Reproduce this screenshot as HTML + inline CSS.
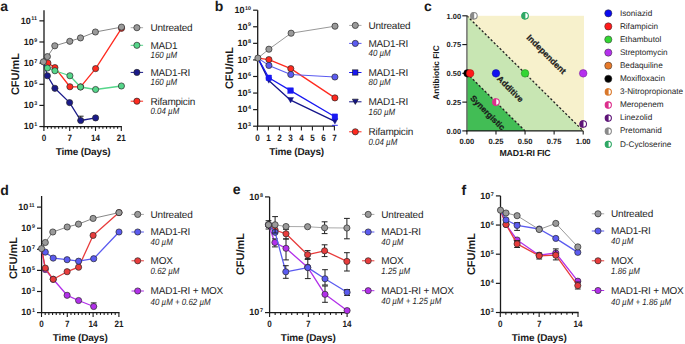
<!DOCTYPE html>
<html><head><meta charset="utf-8"><style>
html,body{margin:0;padding:0;background:#fff;}
svg{display:block;}
text{font-family:"Liberation Sans", sans-serif;text-rendering:geometricPrecision;}
</style></head><body>
<svg width="685" height="344" viewBox="0 0 685 344">
<rect width="685" height="344" fill="#fff"/>
<text x="0.30" y="11.20" font-size="14" font-weight="bold" font-style="normal" text-anchor="start" fill="#1a1a1a" >a</text>
<line x1="44.00" y1="10.20" x2="44.00" y2="127.20" stroke="#1a1a1a" stroke-width="1.3" />
<line x1="39.40" y1="20.85" x2="44.00" y2="20.85" stroke="#1a1a1a" stroke-width="1.2" />
<text x="20.69" y="23.70" font-size="9.0" font-weight="bold" fill="#1a1a1a">10<tspan font-size="5.4" font-weight="bold" dy="-3.24" dx="0.6">11</tspan></text>
<line x1="39.40" y1="41.99" x2="44.00" y2="41.99" stroke="#1a1a1a" stroke-width="1.2" />
<text x="23.69" y="44.84" font-size="9.0" font-weight="bold" fill="#1a1a1a">10<tspan font-size="5.4" font-weight="bold" dy="-3.24" dx="0.6">9</tspan></text>
<line x1="39.40" y1="63.13" x2="44.00" y2="63.13" stroke="#1a1a1a" stroke-width="1.2" />
<text x="23.69" y="65.98" font-size="9.0" font-weight="bold" fill="#1a1a1a">10<tspan font-size="5.4" font-weight="bold" dy="-3.24" dx="0.6">7</tspan></text>
<line x1="39.40" y1="84.27" x2="44.00" y2="84.27" stroke="#1a1a1a" stroke-width="1.2" />
<text x="23.69" y="87.12" font-size="9.0" font-weight="bold" fill="#1a1a1a">10<tspan font-size="5.4" font-weight="bold" dy="-3.24" dx="0.6">5</tspan></text>
<line x1="39.40" y1="105.41" x2="44.00" y2="105.41" stroke="#1a1a1a" stroke-width="1.2" />
<text x="23.69" y="108.26" font-size="9.0" font-weight="bold" fill="#1a1a1a">10<tspan font-size="5.4" font-weight="bold" dy="-3.24" dx="0.6">3</tspan></text>
<line x1="39.40" y1="126.55" x2="44.00" y2="126.55" stroke="#1a1a1a" stroke-width="1.2" />
<text x="23.69" y="129.40" font-size="9.0" font-weight="bold" fill="#1a1a1a">10<tspan font-size="5.4" font-weight="bold" dy="-3.24" dx="0.6">1</tspan></text>
<line x1="43.35" y1="126.55" x2="121.90" y2="126.55" stroke="#1a1a1a" stroke-width="1.3" />
<line x1="43.90" y1="126.55" x2="43.90" y2="130.95" stroke="#1a1a1a" stroke-width="1.1" />
<line x1="47.59" y1="126.55" x2="47.59" y2="128.85" stroke="#1a1a1a" stroke-width="1.1" />
<line x1="51.27" y1="126.55" x2="51.27" y2="128.85" stroke="#1a1a1a" stroke-width="1.1" />
<line x1="54.96" y1="126.55" x2="54.96" y2="128.85" stroke="#1a1a1a" stroke-width="1.1" />
<line x1="58.64" y1="126.55" x2="58.64" y2="128.85" stroke="#1a1a1a" stroke-width="1.1" />
<line x1="62.33" y1="126.55" x2="62.33" y2="128.85" stroke="#1a1a1a" stroke-width="1.1" />
<line x1="66.01" y1="126.55" x2="66.01" y2="128.85" stroke="#1a1a1a" stroke-width="1.1" />
<line x1="69.70" y1="126.55" x2="69.70" y2="130.95" stroke="#1a1a1a" stroke-width="1.1" />
<line x1="73.39" y1="126.55" x2="73.39" y2="128.85" stroke="#1a1a1a" stroke-width="1.1" />
<line x1="77.07" y1="126.55" x2="77.07" y2="128.85" stroke="#1a1a1a" stroke-width="1.1" />
<line x1="80.76" y1="126.55" x2="80.76" y2="128.85" stroke="#1a1a1a" stroke-width="1.1" />
<line x1="84.44" y1="126.55" x2="84.44" y2="128.85" stroke="#1a1a1a" stroke-width="1.1" />
<line x1="88.13" y1="126.55" x2="88.13" y2="128.85" stroke="#1a1a1a" stroke-width="1.1" />
<line x1="91.81" y1="126.55" x2="91.81" y2="128.85" stroke="#1a1a1a" stroke-width="1.1" />
<line x1="95.50" y1="126.55" x2="95.50" y2="130.95" stroke="#1a1a1a" stroke-width="1.1" />
<line x1="99.19" y1="126.55" x2="99.19" y2="128.85" stroke="#1a1a1a" stroke-width="1.1" />
<line x1="102.87" y1="126.55" x2="102.87" y2="128.85" stroke="#1a1a1a" stroke-width="1.1" />
<line x1="106.56" y1="126.55" x2="106.56" y2="128.85" stroke="#1a1a1a" stroke-width="1.1" />
<line x1="110.24" y1="126.55" x2="110.24" y2="128.85" stroke="#1a1a1a" stroke-width="1.1" />
<line x1="113.93" y1="126.55" x2="113.93" y2="128.85" stroke="#1a1a1a" stroke-width="1.1" />
<line x1="117.61" y1="126.55" x2="117.61" y2="128.85" stroke="#1a1a1a" stroke-width="1.1" />
<line x1="121.30" y1="126.55" x2="121.30" y2="130.95" stroke="#1a1a1a" stroke-width="1.1" />
<text transform="translate(43.90 140.80) scale(0.88 1)" x="0" y="0" font-size="9.2" font-weight="bold" text-anchor="middle" fill="#1a1a1a" >0</text>
<text transform="translate(69.70 140.80) scale(0.88 1)" x="0" y="0" font-size="9.2" font-weight="bold" text-anchor="middle" fill="#1a1a1a" >7</text>
<text transform="translate(95.50 140.80) scale(0.88 1)" x="0" y="0" font-size="9.2" font-weight="bold" text-anchor="middle" fill="#1a1a1a" >14</text>
<text transform="translate(121.30 140.80) scale(0.88 1)" x="0" y="0" font-size="9.2" font-weight="bold" text-anchor="middle" fill="#1a1a1a" >21</text>
<text x="83.10" y="155.00" font-size="10" font-weight="bold" font-style="normal" text-anchor="middle" fill="#1a1a1a" letter-spacing="-0.15">Time (Days)</text>
<text x="18.80" y="74.00" font-size="11" font-weight="bold" fill="#1a1a1a" text-anchor="middle" transform="rotate(-90 18.80 74.00)">CFU/mL</text>
<polyline points="43.40,61.80 47.90,63.00 54.90,67.60 69.90,86.75 80.60,86.90 95.60,68.60 121.50,28.30" fill="none" stroke="#ff2a1f" stroke-width="1.3" stroke-linejoin="round"/>
<circle cx="47.90" cy="63.00" r="3.1" fill="#ff2a1f" stroke="#2a2a2a" stroke-width="0.7"/>
<circle cx="54.90" cy="67.60" r="3.1" fill="#ff2a1f" stroke="#2a2a2a" stroke-width="0.7"/>
<circle cx="69.90" cy="86.75" r="3.1" fill="#ff2a1f" stroke="#2a2a2a" stroke-width="0.7"/>
<circle cx="80.60" cy="86.90" r="3.1" fill="#ff2a1f" stroke="#2a2a2a" stroke-width="0.7"/>
<circle cx="95.60" cy="68.60" r="3.1" fill="#ff2a1f" stroke="#2a2a2a" stroke-width="0.7"/>
<circle cx="121.50" cy="28.30" r="3.1" fill="#ff2a1f" stroke="#2a2a2a" stroke-width="0.7"/>
<polyline points="43.40,61.80 47.40,75.75 54.90,88.30 69.60,102.60 80.70,120.50 95.60,117.90" fill="none" stroke="#1a1a8a" stroke-width="1.3" stroke-linejoin="round"/>
<line x1="80.70" y1="116.20" x2="80.70" y2="120.50" stroke="#202020" stroke-width="1.0" />
<line x1="77.80" y1="116.20" x2="83.60" y2="116.20" stroke="#202020" stroke-width="1.0" />
<line x1="77.80" y1="120.50" x2="83.60" y2="120.50" stroke="#202020" stroke-width="1.0" />
<circle cx="47.40" cy="75.75" r="3.1" fill="#1a1a8a" stroke="#2a2a2a" stroke-width="0.7"/>
<circle cx="54.90" cy="88.30" r="3.1" fill="#1a1a8a" stroke="#2a2a2a" stroke-width="0.7"/>
<circle cx="69.60" cy="102.60" r="3.1" fill="#1a1a8a" stroke="#2a2a2a" stroke-width="0.7"/>
<circle cx="80.70" cy="120.50" r="3.1" fill="#1a1a8a" stroke="#2a2a2a" stroke-width="0.7"/>
<circle cx="95.60" cy="117.90" r="3.1" fill="#1a1a8a" stroke="#2a2a2a" stroke-width="0.7"/>
<polyline points="43.40,61.80 47.40,68.00 54.90,70.75 69.90,75.75 80.50,87.00 95.60,89.50 121.40,86.00" fill="none" stroke="#55d68a" stroke-width="1.3" stroke-linejoin="round"/>
<circle cx="47.40" cy="68.00" r="3.1" fill="#55d68a" stroke="#2a2a2a" stroke-width="0.7"/>
<circle cx="54.90" cy="70.75" r="3.1" fill="#55d68a" stroke="#2a2a2a" stroke-width="0.7"/>
<circle cx="69.90" cy="75.75" r="3.1" fill="#55d68a" stroke="#2a2a2a" stroke-width="0.7"/>
<circle cx="80.50" cy="87.00" r="3.1" fill="#55d68a" stroke="#2a2a2a" stroke-width="0.7"/>
<circle cx="95.60" cy="89.50" r="3.1" fill="#55d68a" stroke="#2a2a2a" stroke-width="0.7"/>
<circle cx="121.40" cy="86.00" r="3.1" fill="#55d68a" stroke="#2a2a2a" stroke-width="0.7"/>
<polyline points="43.40,61.80 47.40,56.60 54.80,45.80 69.80,41.30 80.50,37.90 95.40,32.00 121.50,27.10" fill="none" stroke="#888" stroke-width="1.0" stroke-linejoin="round"/>
<circle cx="43.40" cy="61.80" r="3.1" fill="#9a9a9a" stroke="#2a2a2a" stroke-width="0.7"/>
<circle cx="47.40" cy="56.60" r="3.1" fill="#9a9a9a" stroke="#2a2a2a" stroke-width="0.7"/>
<circle cx="54.80" cy="45.80" r="3.1" fill="#9a9a9a" stroke="#2a2a2a" stroke-width="0.7"/>
<circle cx="69.80" cy="41.30" r="3.1" fill="#9a9a9a" stroke="#2a2a2a" stroke-width="0.7"/>
<circle cx="80.50" cy="37.90" r="3.1" fill="#9a9a9a" stroke="#2a2a2a" stroke-width="0.7"/>
<circle cx="95.40" cy="32.00" r="3.1" fill="#9a9a9a" stroke="#2a2a2a" stroke-width="0.7"/>
<circle cx="121.50" cy="27.10" r="3.1" fill="#9a9a9a" stroke="#2a2a2a" stroke-width="0.7"/>
<line x1="130.70" y1="27.70" x2="143.10" y2="27.70" stroke="#aaa" stroke-width="1.0" />
<circle cx="136.90" cy="27.70" r="3.1" fill="#9a9a9a" stroke="#2a2a2a" stroke-width="0.7"/>
<text x="150.50" y="31.10" font-size="10" font-weight="normal" font-style="normal" text-anchor="start" fill="#262626" letter-spacing="-0.22">Untreated</text>
<line x1="130.70" y1="45.30" x2="143.10" y2="45.30" stroke="#55d68a" stroke-width="1.0" />
<circle cx="136.90" cy="45.30" r="3.1" fill="#55d68a" stroke="#2a2a2a" stroke-width="0.7"/>
<text x="150.50" y="48.70" font-size="10" font-weight="normal" font-style="normal" text-anchor="start" fill="#262626" letter-spacing="-0.22">MAD1</text>
<text transform="translate(150.50 58.20) scale(0.88 1)" x="0" y="0" font-size="9.0" font-style="italic" fill="#262626">160 µM</text>
<line x1="130.70" y1="72.40" x2="143.10" y2="72.40" stroke="#1a1a8a" stroke-width="1.0" />
<circle cx="136.90" cy="72.40" r="3.1" fill="#1a1a8a" stroke="#2a2a2a" stroke-width="0.7"/>
<text x="150.50" y="75.80" font-size="10" font-weight="normal" font-style="normal" text-anchor="start" fill="#262626" letter-spacing="-0.22">MAD1-RI</text>
<text transform="translate(150.50 85.30) scale(0.88 1)" x="0" y="0" font-size="9.0" font-style="italic" fill="#262626">160 µM</text>
<line x1="130.70" y1="101.20" x2="143.10" y2="101.20" stroke="#ff2a1f" stroke-width="1.0" />
<circle cx="136.90" cy="101.20" r="3.1" fill="#ff2a1f" stroke="#2a2a2a" stroke-width="0.7"/>
<text x="150.50" y="104.60" font-size="10" font-weight="normal" font-style="normal" text-anchor="start" fill="#262626" letter-spacing="-0.22">Rifampicin</text>
<text transform="translate(150.50 114.10) scale(0.88 1)" x="0" y="0" font-size="9.0" font-style="italic" fill="#262626">0.04 µM</text>
<text x="214.80" y="11.00" font-size="14" font-weight="bold" font-style="normal" text-anchor="start" fill="#1a1a1a" >b</text>
<line x1="257.70" y1="10.20" x2="257.70" y2="126.85" stroke="#1a1a1a" stroke-width="1.3" />
<line x1="253.10" y1="126.20" x2="257.70" y2="126.20" stroke="#1a1a1a" stroke-width="1.2" />
<text x="237.39" y="129.05" font-size="9.0" font-weight="bold" fill="#1a1a1a">10<tspan font-size="5.4" font-weight="bold" dy="-3.24" dx="0.6">3</tspan></text>
<line x1="253.10" y1="109.63" x2="257.70" y2="109.63" stroke="#1a1a1a" stroke-width="1.2" />
<text x="237.39" y="112.48" font-size="9.0" font-weight="bold" fill="#1a1a1a">10<tspan font-size="5.4" font-weight="bold" dy="-3.24" dx="0.6">4</tspan></text>
<line x1="253.10" y1="93.06" x2="257.70" y2="93.06" stroke="#1a1a1a" stroke-width="1.2" />
<text x="237.39" y="95.91" font-size="9.0" font-weight="bold" fill="#1a1a1a">10<tspan font-size="5.4" font-weight="bold" dy="-3.24" dx="0.6">5</tspan></text>
<line x1="253.10" y1="76.49" x2="257.70" y2="76.49" stroke="#1a1a1a" stroke-width="1.2" />
<text x="237.39" y="79.34" font-size="9.0" font-weight="bold" fill="#1a1a1a">10<tspan font-size="5.4" font-weight="bold" dy="-3.24" dx="0.6">6</tspan></text>
<line x1="253.10" y1="59.91" x2="257.70" y2="59.91" stroke="#1a1a1a" stroke-width="1.2" />
<text x="237.39" y="62.76" font-size="9.0" font-weight="bold" fill="#1a1a1a">10<tspan font-size="5.4" font-weight="bold" dy="-3.24" dx="0.6">7</tspan></text>
<line x1="253.10" y1="43.34" x2="257.70" y2="43.34" stroke="#1a1a1a" stroke-width="1.2" />
<text x="237.39" y="46.19" font-size="9.0" font-weight="bold" fill="#1a1a1a">10<tspan font-size="5.4" font-weight="bold" dy="-3.24" dx="0.6">8</tspan></text>
<line x1="253.10" y1="26.77" x2="257.70" y2="26.77" stroke="#1a1a1a" stroke-width="1.2" />
<text x="237.39" y="29.62" font-size="9.0" font-weight="bold" fill="#1a1a1a">10<tspan font-size="5.4" font-weight="bold" dy="-3.24" dx="0.6">9</tspan></text>
<line x1="253.10" y1="10.20" x2="257.70" y2="10.20" stroke="#1a1a1a" stroke-width="1.2" />
<text x="234.39" y="13.05" font-size="9.0" font-weight="bold" fill="#1a1a1a">10<tspan font-size="5.4" font-weight="bold" dy="-3.24" dx="0.6">10</tspan></text>
<line x1="257.05" y1="126.20" x2="335.00" y2="126.20" stroke="#1a1a1a" stroke-width="1.3" />
<line x1="257.40" y1="126.20" x2="257.40" y2="130.60" stroke="#1a1a1a" stroke-width="1.1" />
<line x1="268.40" y1="126.20" x2="268.40" y2="130.60" stroke="#1a1a1a" stroke-width="1.1" />
<line x1="279.40" y1="126.20" x2="279.40" y2="130.60" stroke="#1a1a1a" stroke-width="1.1" />
<line x1="290.40" y1="126.20" x2="290.40" y2="130.60" stroke="#1a1a1a" stroke-width="1.1" />
<line x1="301.40" y1="126.20" x2="301.40" y2="130.60" stroke="#1a1a1a" stroke-width="1.1" />
<line x1="312.40" y1="126.20" x2="312.40" y2="130.60" stroke="#1a1a1a" stroke-width="1.1" />
<line x1="323.40" y1="126.20" x2="323.40" y2="130.60" stroke="#1a1a1a" stroke-width="1.1" />
<line x1="334.40" y1="126.20" x2="334.40" y2="130.60" stroke="#1a1a1a" stroke-width="1.1" />
<text transform="translate(257.40 140.80) scale(0.88 1)" x="0" y="0" font-size="9.2" font-weight="bold" text-anchor="middle" fill="#1a1a1a" >0</text>
<text transform="translate(268.40 140.80) scale(0.88 1)" x="0" y="0" font-size="9.2" font-weight="bold" text-anchor="middle" fill="#1a1a1a" >1</text>
<text transform="translate(279.40 140.80) scale(0.88 1)" x="0" y="0" font-size="9.2" font-weight="bold" text-anchor="middle" fill="#1a1a1a" >2</text>
<text transform="translate(290.40 140.80) scale(0.88 1)" x="0" y="0" font-size="9.2" font-weight="bold" text-anchor="middle" fill="#1a1a1a" >3</text>
<text transform="translate(301.40 140.80) scale(0.88 1)" x="0" y="0" font-size="9.2" font-weight="bold" text-anchor="middle" fill="#1a1a1a" >4</text>
<text transform="translate(312.40 140.80) scale(0.88 1)" x="0" y="0" font-size="9.2" font-weight="bold" text-anchor="middle" fill="#1a1a1a" >5</text>
<text transform="translate(323.40 140.80) scale(0.88 1)" x="0" y="0" font-size="9.2" font-weight="bold" text-anchor="middle" fill="#1a1a1a" >6</text>
<text transform="translate(334.40 140.80) scale(0.88 1)" x="0" y="0" font-size="9.2" font-weight="bold" text-anchor="middle" fill="#1a1a1a" >7</text>
<text x="296.60" y="154.80" font-size="10" font-weight="bold" font-style="normal" text-anchor="middle" fill="#1a1a1a" letter-spacing="-0.15">Time (Days)</text>
<text x="232.50" y="68.00" font-size="11" font-weight="bold" fill="#1a1a1a" text-anchor="middle" transform="rotate(-90 232.50 68.00)">CFU/mL</text>
<polyline points="257.90,58.10 268.90,59.60 290.80,68.65 334.90,97.90" fill="none" stroke="#ff2a1f" stroke-width="1.3" stroke-linejoin="round"/>
<circle cx="268.90" cy="59.60" r="3.1" fill="#ff2a1f" stroke="#2a2a2a" stroke-width="0.7"/>
<circle cx="290.80" cy="68.65" r="3.1" fill="#ff2a1f" stroke="#2a2a2a" stroke-width="0.7"/>
<circle cx="334.90" cy="97.90" r="3.1" fill="#ff2a1f" stroke="#2a2a2a" stroke-width="0.7"/>
<polyline points="257.90,58.10 268.80,80.50 290.60,100.20 334.90,121.40" fill="none" stroke="#14148a" stroke-width="1.3" stroke-linejoin="round"/>
<polygon points="265.80,77.80 271.80,77.80 268.80,83.20" fill="#14148a" stroke="#14148a" stroke-width="0.4"/>
<polygon points="287.60,97.50 293.60,97.50 290.60,102.90" fill="#14148a" stroke="#14148a" stroke-width="0.4"/>
<polygon points="331.90,118.70 337.90,118.70 334.90,124.10" fill="#14148a" stroke="#14148a" stroke-width="0.4"/>
<polyline points="257.90,58.10 268.80,77.80 290.60,90.60 334.90,116.70" fill="none" stroke="#1818f2" stroke-width="1.3" stroke-linejoin="round"/>
<rect x="266.00" y="75.00" width="5.6" height="5.6" fill="#1818f2" stroke="#1818f2" stroke-width="0.4"/>
<rect x="287.80" y="87.80" width="5.6" height="5.6" fill="#1818f2" stroke="#1818f2" stroke-width="0.4"/>
<rect x="332.10" y="113.90" width="5.6" height="5.6" fill="#1818f2" stroke="#1818f2" stroke-width="0.4"/>
<line x1="332.00" y1="125.30" x2="337.80" y2="125.30" stroke="#1818f2" stroke-width="0.9" />
<polyline points="257.90,58.10 268.90,65.40 290.80,74.50 334.90,77.00" fill="none" stroke="#5b5bf0" stroke-width="1.1" stroke-linejoin="round"/>
<circle cx="268.90" cy="65.40" r="3.1" fill="#5b5bf0" stroke="#2a2a2a" stroke-width="0.7"/>
<circle cx="290.80" cy="74.50" r="3.1" fill="#5b5bf0" stroke="#2a2a2a" stroke-width="0.7"/>
<circle cx="334.90" cy="77.00" r="3.1" fill="#5b5bf0" stroke="#2a2a2a" stroke-width="0.7"/>
<polyline points="257.90,58.10 268.90,49.20 291.10,33.20 335.00,26.20" fill="none" stroke="#999" stroke-width="1.0" stroke-linejoin="round"/>
<circle cx="257.90" cy="58.10" r="3.1" fill="#9a9a9a" stroke="#2a2a2a" stroke-width="0.7"/>
<circle cx="268.90" cy="49.20" r="3.1" fill="#9a9a9a" stroke="#2a2a2a" stroke-width="0.7"/>
<circle cx="291.10" cy="33.20" r="3.1" fill="#9a9a9a" stroke="#2a2a2a" stroke-width="0.7"/>
<circle cx="335.00" cy="26.20" r="3.1" fill="#9a9a9a" stroke="#2a2a2a" stroke-width="0.7"/>
<line x1="349.10" y1="25.40" x2="361.50" y2="25.40" stroke="#aaa" stroke-width="1.0" />
<circle cx="355.30" cy="25.40" r="3.1" fill="#9a9a9a" stroke="#2a2a2a" stroke-width="0.7"/>
<text x="368.50" y="28.80" font-size="10" font-weight="normal" font-style="normal" text-anchor="start" fill="#262626" letter-spacing="-0.22">Untreated</text>
<line x1="349.10" y1="43.40" x2="361.50" y2="43.40" stroke="#5b5bf0" stroke-width="1.0" />
<circle cx="355.30" cy="43.40" r="3.1" fill="#5b5bf0" stroke="#2a2a2a" stroke-width="0.7"/>
<text x="368.50" y="46.80" font-size="10" font-weight="normal" font-style="normal" text-anchor="start" fill="#262626" letter-spacing="-0.22">MAD1-RI</text>
<text transform="translate(368.50 56.30) scale(0.88 1)" x="0" y="0" font-size="9.0" font-style="italic" fill="#262626">40 µM</text>
<line x1="349.10" y1="72.50" x2="361.50" y2="72.50" stroke="#1818f2" stroke-width="1.0" />
<rect x="352.67" y="69.86" width="5.27" height="5.27" fill="#1818f2" stroke="#111" stroke-width="0.6"/>
<text x="368.50" y="75.90" font-size="10" font-weight="normal" font-style="normal" text-anchor="start" fill="#262626" letter-spacing="-0.22">MAD1-RI</text>
<text transform="translate(368.50 85.40) scale(0.88 1)" x="0" y="0" font-size="9.0" font-style="italic" fill="#262626">80 µM</text>
<line x1="349.10" y1="101.80" x2="361.50" y2="101.80" stroke="#14148a" stroke-width="1.0" />
<polygon points="352.36,99.15 358.25,99.15 355.30,104.45" fill="#14148a" stroke="#111" stroke-width="0.6"/>
<text x="368.50" y="105.20" font-size="10" font-weight="normal" font-style="normal" text-anchor="start" fill="#262626" letter-spacing="-0.22">MAD1-RI</text>
<text transform="translate(368.50 114.70) scale(0.88 1)" x="0" y="0" font-size="9.0" font-style="italic" fill="#262626">160 µM</text>
<line x1="349.10" y1="131.80" x2="361.50" y2="131.80" stroke="#ff2a1f" stroke-width="1.0" />
<circle cx="355.30" cy="131.80" r="3.1" fill="#ff2a1f" stroke="#2a2a2a" stroke-width="0.7"/>
<text x="368.50" y="135.20" font-size="10" font-weight="normal" font-style="normal" text-anchor="start" fill="#262626" letter-spacing="-0.22">Rifampicin</text>
<text transform="translate(368.50 144.70) scale(0.88 1)" x="0" y="0" font-size="9.0" font-style="italic" fill="#262626">0.04 µM</text>
<text x="424.00" y="11.00" font-size="14" font-weight="bold" font-style="normal" text-anchor="start" fill="#1a1a1a" >c</text>
<rect x="466.9" y="15.8" width="117.10" height="115.10000000000001" fill="#f7f1cc"/>
<polygon points="466.9,15.799999999999997 583.2,130.9 466.9,130.9" fill="#c8e6b3"/>
<polygon points="466.9,73.35 525.05,130.9 466.9,130.9" fill="#42bd55"/>
<line x1="466.90" y1="15.80" x2="583.20" y2="130.90" stroke="#222" stroke-width="1.3" stroke-dasharray="2.2,2.0"/>
<line x1="466.90" y1="73.35" x2="525.05" y2="130.90" stroke="#222" stroke-width="1.3" stroke-dasharray="2.2,2.0"/>
<line x1="466.90" y1="15.80" x2="466.90" y2="131.50" stroke="#6a6a6a" stroke-width="1.4" />
<line x1="466.30" y1="130.90" x2="583.20" y2="130.90" stroke="#1a1a1a" stroke-width="1.3" />
<line x1="462.30" y1="130.90" x2="466.90" y2="130.90" stroke="#1a1a1a" stroke-width="1.15" />
<text x="461.00" y="133.60" font-size="7.4" font-weight="bold" font-style="normal" text-anchor="end" fill="#1a1a1a" >0.00</text>
<line x1="466.90" y1="130.90" x2="466.90" y2="134.40" stroke="#1a1a1a" stroke-width="1.1" />
<text x="466.90" y="143.80" font-size="7.6" font-weight="bold" font-style="normal" text-anchor="middle" fill="#1a1a1a" >0.00</text>
<line x1="462.30" y1="102.12" x2="466.90" y2="102.12" stroke="#1a1a1a" stroke-width="1.15" />
<text x="461.00" y="104.83" font-size="7.4" font-weight="bold" font-style="normal" text-anchor="end" fill="#1a1a1a" >0.25</text>
<line x1="495.98" y1="130.90" x2="495.98" y2="134.40" stroke="#1a1a1a" stroke-width="1.1" />
<text x="495.98" y="143.80" font-size="7.6" font-weight="bold" font-style="normal" text-anchor="middle" fill="#1a1a1a" >0.25</text>
<line x1="462.30" y1="73.35" x2="466.90" y2="73.35" stroke="#1a1a1a" stroke-width="1.15" />
<text x="461.00" y="76.05" font-size="7.4" font-weight="bold" font-style="normal" text-anchor="end" fill="#1a1a1a" >0.50</text>
<line x1="525.05" y1="130.90" x2="525.05" y2="134.40" stroke="#1a1a1a" stroke-width="1.1" />
<text x="525.05" y="143.80" font-size="7.6" font-weight="bold" font-style="normal" text-anchor="middle" fill="#1a1a1a" >0.50</text>
<line x1="462.30" y1="44.58" x2="466.90" y2="44.58" stroke="#1a1a1a" stroke-width="1.15" />
<text x="461.00" y="47.28" font-size="7.4" font-weight="bold" font-style="normal" text-anchor="end" fill="#1a1a1a" >0.75</text>
<line x1="554.12" y1="130.90" x2="554.12" y2="134.40" stroke="#1a1a1a" stroke-width="1.1" />
<text x="554.12" y="143.80" font-size="7.6" font-weight="bold" font-style="normal" text-anchor="middle" fill="#1a1a1a" >0.75</text>
<line x1="462.30" y1="15.80" x2="466.90" y2="15.80" stroke="#1a1a1a" stroke-width="1.15" />
<text x="461.00" y="18.50" font-size="7.4" font-weight="bold" font-style="normal" text-anchor="end" fill="#1a1a1a" >1.00</text>
<line x1="583.20" y1="130.90" x2="583.20" y2="134.40" stroke="#1a1a1a" stroke-width="1.1" />
<text x="583.20" y="143.80" font-size="7.6" font-weight="bold" font-style="normal" text-anchor="middle" fill="#1a1a1a" >1.00</text>
<text x="525.00" y="155.60" font-size="8.8" font-weight="bold" font-style="normal" text-anchor="middle" fill="#1a1a1a" letter-spacing="-0.2">MAD1-RI FIC</text>
<text x="439.00" y="72.50" font-size="8.4" font-weight="bold" fill="#1a1a1a" text-anchor="middle" transform="rotate(-90 439.00 72.50)">Antibiotic FIC</text>
<text x="544.30" y="56.40" font-size="8.7" font-weight="bold" fill="#1a1a1a" stroke="#1a1a1a" stroke-width="0.25" text-anchor="middle" transform="rotate(45 544.30 56.40)">Independent</text>
<text x="508.30" y="91.00" font-size="8.4" font-weight="bold" fill="#1a1a1a" stroke="#1a1a1a" stroke-width="0.25" text-anchor="middle" transform="rotate(45 508.30 91.00)">Additive</text>
<text x="485.60" y="114.80" font-size="8.4" font-weight="bold" fill="#1a1a1a" stroke="#1a1a1a" stroke-width="0.25" text-anchor="middle" transform="rotate(45 485.60 114.80)">Synergistic</text>
<circle cx="467.48" cy="73.35" r="3.8" fill="#000" stroke="#000" stroke-width="0.4"/>
<circle cx="470.16" cy="73.35" r="3.8" fill="#ff1a1a" stroke="#a01010" stroke-width="0.5"/>
<circle cx="495.98" cy="73.35" r="3.8" fill="#1010f0" stroke="#10108a" stroke-width="0.5"/>
<circle cx="525.05" cy="73.35" r="3.8" fill="#33d633" stroke="#1a7a1a" stroke-width="0.5"/>
<circle cx="583.20" cy="73.35" r="3.8" fill="#b530ee" stroke="#6a1a8a" stroke-width="0.5"/>
<circle cx="495.98" cy="102.12" r="3.30" fill="#fff"/>
<path d="M496.28,98.33 A3.8,3.8 0 0 0 496.28,105.92 Z" fill="#dc2f8c"/>
<circle cx="495.98" cy="102.12" r="3.30" fill="none" stroke="#dc2f8c" stroke-width="1.1"/>
<circle cx="583.20" cy="123.99" r="3.30" fill="#fff"/>
<path d="M583.50,120.19 A3.8,3.8 0 0 0 583.50,127.79 Z" fill="#5e1578"/>
<circle cx="583.20" cy="123.99" r="3.30" fill="none" stroke="#5e1578" stroke-width="1.1"/>
<circle cx="473.88" cy="15.80" r="3.30" fill="#fff"/>
<path d="M474.18,12.00 A3.8,3.8 0 0 0 474.18,19.60 Z" fill="#8a8a8a"/>
<circle cx="473.88" cy="15.80" r="3.30" fill="none" stroke="#8a8a8a" stroke-width="1.1"/>
<circle cx="525.05" cy="15.80" r="3.30" fill="#fff"/>
<path d="M525.35,12.00 A3.8,3.8 0 0 0 525.35,19.60 Z" fill="#2fa865"/>
<circle cx="525.05" cy="15.80" r="3.30" fill="none" stroke="#2fa865" stroke-width="1.1"/>
<circle cx="608.30" cy="13.30" r="3.6" fill="#0a0af0" stroke="#333" stroke-width="0.55"/>
<text x="619.90" y="15.50" font-size="8.2" font-weight="normal" font-style="normal" text-anchor="start" fill="#262626" >Isoniazid</text>
<circle cx="608.30" cy="26.40" r="3.6" fill="#ff1a1a" stroke="#333" stroke-width="0.55"/>
<text x="619.90" y="28.60" font-size="8.2" font-weight="normal" font-style="normal" text-anchor="start" fill="#262626" >Rifampicin</text>
<circle cx="608.30" cy="39.50" r="3.6" fill="#33d633" stroke="#333" stroke-width="0.55"/>
<text x="619.90" y="41.70" font-size="8.2" font-weight="normal" font-style="normal" text-anchor="start" fill="#262626" >Ethambutol</text>
<circle cx="608.30" cy="52.60" r="3.6" fill="#b530ee" stroke="#333" stroke-width="0.55"/>
<text x="619.90" y="54.80" font-size="8.2" font-weight="normal" font-style="normal" text-anchor="start" fill="#262626" >Streptomycin</text>
<circle cx="608.30" cy="65.70" r="3.6" fill="#e87a2a" stroke="#333" stroke-width="0.55"/>
<text x="619.90" y="67.90" font-size="8.2" font-weight="normal" font-style="normal" text-anchor="start" fill="#262626" >Bedaquiline</text>
<circle cx="608.30" cy="78.80" r="3.6" fill="#000" stroke="#333" stroke-width="0.55"/>
<text x="619.90" y="81.00" font-size="8.2" font-weight="normal" font-style="normal" text-anchor="start" fill="#262626" >Moxifloxacin</text>
<circle cx="608.30" cy="91.90" r="3.10" fill="#fff"/>
<path d="M608.60,88.30 A3.6,3.6 0 0 0 608.60,95.50 Z" fill="#d9782b"/>
<circle cx="608.30" cy="91.90" r="3.10" fill="none" stroke="#d9782b" stroke-width="1.1"/>
<text x="619.90" y="94.10" font-size="8.2" font-weight="normal" font-style="normal" text-anchor="start" fill="#262626" >3-Nitropropionate</text>
<circle cx="608.30" cy="105.00" r="3.10" fill="#fff"/>
<path d="M608.60,101.40 A3.6,3.6 0 0 0 608.60,108.60 Z" fill="#dc2f8c"/>
<circle cx="608.30" cy="105.00" r="3.10" fill="none" stroke="#dc2f8c" stroke-width="1.1"/>
<text x="619.90" y="107.20" font-size="8.2" font-weight="normal" font-style="normal" text-anchor="start" fill="#262626" >Meropenem</text>
<circle cx="608.30" cy="118.10" r="3.10" fill="#fff"/>
<path d="M608.60,114.50 A3.6,3.6 0 0 0 608.60,121.70 Z" fill="#5e1578"/>
<circle cx="608.30" cy="118.10" r="3.10" fill="none" stroke="#5e1578" stroke-width="1.1"/>
<text x="619.90" y="120.30" font-size="8.2" font-weight="normal" font-style="normal" text-anchor="start" fill="#262626" >Linezolid</text>
<circle cx="608.30" cy="131.20" r="3.10" fill="#fff"/>
<path d="M608.60,127.60 A3.6,3.6 0 0 0 608.60,134.80 Z" fill="#8a8a8a"/>
<circle cx="608.30" cy="131.20" r="3.10" fill="none" stroke="#8a8a8a" stroke-width="1.1"/>
<text x="619.90" y="133.40" font-size="8.2" font-weight="normal" font-style="normal" text-anchor="start" fill="#262626" >Pretomanid</text>
<circle cx="608.30" cy="144.30" r="3.10" fill="#fff"/>
<path d="M608.60,140.70 A3.6,3.6 0 0 0 608.60,147.90 Z" fill="#2fa865"/>
<circle cx="608.30" cy="144.30" r="3.10" fill="none" stroke="#2fa865" stroke-width="1.1"/>
<text x="619.90" y="146.50" font-size="8.2" font-weight="normal" font-style="normal" text-anchor="start" fill="#262626" >D-Cycloserine</text>
<text x="0.30" y="195.20" font-size="14" font-weight="bold" font-style="normal" text-anchor="start" fill="#1a1a1a" >d</text>
<line x1="41.60" y1="196.00" x2="41.60" y2="313.25" stroke="#1a1a1a" stroke-width="1.3" />
<line x1="37.00" y1="207.10" x2="41.60" y2="207.10" stroke="#1a1a1a" stroke-width="1.2" />
<text x="18.29" y="209.95" font-size="9.0" font-weight="bold" fill="#1a1a1a">10<tspan font-size="5.4" font-weight="bold" dy="-3.24" dx="0.6">11</tspan></text>
<line x1="37.00" y1="228.20" x2="41.60" y2="228.20" stroke="#1a1a1a" stroke-width="1.2" />
<text x="21.29" y="231.05" font-size="9.0" font-weight="bold" fill="#1a1a1a">10<tspan font-size="5.4" font-weight="bold" dy="-3.24" dx="0.6">9</tspan></text>
<line x1="37.00" y1="249.30" x2="41.60" y2="249.30" stroke="#1a1a1a" stroke-width="1.2" />
<text x="21.29" y="252.15" font-size="9.0" font-weight="bold" fill="#1a1a1a">10<tspan font-size="5.4" font-weight="bold" dy="-3.24" dx="0.6">7</tspan></text>
<line x1="37.00" y1="270.40" x2="41.60" y2="270.40" stroke="#1a1a1a" stroke-width="1.2" />
<text x="21.29" y="273.25" font-size="9.0" font-weight="bold" fill="#1a1a1a">10<tspan font-size="5.4" font-weight="bold" dy="-3.24" dx="0.6">5</tspan></text>
<line x1="37.00" y1="291.50" x2="41.60" y2="291.50" stroke="#1a1a1a" stroke-width="1.2" />
<text x="21.29" y="294.35" font-size="9.0" font-weight="bold" fill="#1a1a1a">10<tspan font-size="5.4" font-weight="bold" dy="-3.24" dx="0.6">3</tspan></text>
<line x1="37.00" y1="312.60" x2="41.60" y2="312.60" stroke="#1a1a1a" stroke-width="1.2" />
<text x="21.29" y="315.45" font-size="9.0" font-weight="bold" fill="#1a1a1a">10<tspan font-size="5.4" font-weight="bold" dy="-3.24" dx="0.6">1</tspan></text>
<line x1="40.95" y1="312.60" x2="119.50" y2="312.60" stroke="#1a1a1a" stroke-width="1.3" />
<line x1="41.50" y1="312.60" x2="41.50" y2="317.00" stroke="#1a1a1a" stroke-width="1.1" />
<line x1="45.19" y1="312.60" x2="45.19" y2="314.90" stroke="#1a1a1a" stroke-width="1.1" />
<line x1="48.87" y1="312.60" x2="48.87" y2="314.90" stroke="#1a1a1a" stroke-width="1.1" />
<line x1="52.56" y1="312.60" x2="52.56" y2="314.90" stroke="#1a1a1a" stroke-width="1.1" />
<line x1="56.24" y1="312.60" x2="56.24" y2="314.90" stroke="#1a1a1a" stroke-width="1.1" />
<line x1="59.93" y1="312.60" x2="59.93" y2="314.90" stroke="#1a1a1a" stroke-width="1.1" />
<line x1="63.61" y1="312.60" x2="63.61" y2="314.90" stroke="#1a1a1a" stroke-width="1.1" />
<line x1="67.30" y1="312.60" x2="67.30" y2="317.00" stroke="#1a1a1a" stroke-width="1.1" />
<line x1="70.99" y1="312.60" x2="70.99" y2="314.90" stroke="#1a1a1a" stroke-width="1.1" />
<line x1="74.67" y1="312.60" x2="74.67" y2="314.90" stroke="#1a1a1a" stroke-width="1.1" />
<line x1="78.36" y1="312.60" x2="78.36" y2="314.90" stroke="#1a1a1a" stroke-width="1.1" />
<line x1="82.04" y1="312.60" x2="82.04" y2="314.90" stroke="#1a1a1a" stroke-width="1.1" />
<line x1="85.73" y1="312.60" x2="85.73" y2="314.90" stroke="#1a1a1a" stroke-width="1.1" />
<line x1="89.41" y1="312.60" x2="89.41" y2="314.90" stroke="#1a1a1a" stroke-width="1.1" />
<line x1="93.10" y1="312.60" x2="93.10" y2="317.00" stroke="#1a1a1a" stroke-width="1.1" />
<line x1="96.79" y1="312.60" x2="96.79" y2="314.90" stroke="#1a1a1a" stroke-width="1.1" />
<line x1="100.47" y1="312.60" x2="100.47" y2="314.90" stroke="#1a1a1a" stroke-width="1.1" />
<line x1="104.16" y1="312.60" x2="104.16" y2="314.90" stroke="#1a1a1a" stroke-width="1.1" />
<line x1="107.84" y1="312.60" x2="107.84" y2="314.90" stroke="#1a1a1a" stroke-width="1.1" />
<line x1="111.53" y1="312.60" x2="111.53" y2="314.90" stroke="#1a1a1a" stroke-width="1.1" />
<line x1="115.21" y1="312.60" x2="115.21" y2="314.90" stroke="#1a1a1a" stroke-width="1.1" />
<line x1="118.90" y1="312.60" x2="118.90" y2="317.00" stroke="#1a1a1a" stroke-width="1.1" />
<text transform="translate(41.50 327.00) scale(0.88 1)" x="0" y="0" font-size="9.2" font-weight="bold" text-anchor="middle" fill="#1a1a1a" >0</text>
<text transform="translate(67.30 327.00) scale(0.88 1)" x="0" y="0" font-size="9.2" font-weight="bold" text-anchor="middle" fill="#1a1a1a" >7</text>
<text transform="translate(93.10 327.00) scale(0.88 1)" x="0" y="0" font-size="9.2" font-weight="bold" text-anchor="middle" fill="#1a1a1a" >14</text>
<text transform="translate(118.90 327.00) scale(0.88 1)" x="0" y="0" font-size="9.2" font-weight="bold" text-anchor="middle" fill="#1a1a1a" >21</text>
<text x="80.20" y="341.00" font-size="10" font-weight="bold" font-style="normal" text-anchor="middle" fill="#1a1a1a" letter-spacing="-0.15">Time (Days)</text>
<text x="17.00" y="258.00" font-size="11" font-weight="bold" fill="#1a1a1a" text-anchor="middle" transform="rotate(-90 17.00 258.00)">CFU/mL</text>
<polyline points="41.60,248.60 45.30,269.50 53.20,279.30 67.10,295.30 78.60,300.50 93.70,306.50" fill="none" stroke="#b230ea" stroke-width="1.3" stroke-linejoin="round"/>
<line x1="93.70" y1="302.90" x2="93.70" y2="306.50" stroke="#202020" stroke-width="1.0" />
<line x1="90.80" y1="302.90" x2="96.60" y2="302.90" stroke="#202020" stroke-width="1.0" />
<line x1="90.80" y1="306.50" x2="96.60" y2="306.50" stroke="#202020" stroke-width="1.0" />
<circle cx="45.30" cy="269.50" r="3.1" fill="#b230ea" stroke="#2a2a2a" stroke-width="0.7"/>
<circle cx="53.20" cy="279.30" r="3.1" fill="#b230ea" stroke="#2a2a2a" stroke-width="0.7"/>
<circle cx="67.10" cy="295.30" r="3.1" fill="#b230ea" stroke="#2a2a2a" stroke-width="0.7"/>
<circle cx="78.60" cy="300.50" r="3.1" fill="#b230ea" stroke="#2a2a2a" stroke-width="0.7"/>
<circle cx="93.70" cy="306.50" r="3.1" fill="#b230ea" stroke="#2a2a2a" stroke-width="0.7"/>
<polyline points="41.60,248.60 45.30,268.10 53.20,279.30 67.10,271.70 78.60,267.20 93.10,235.40 119.00,212.60" fill="none" stroke="#e83c3c" stroke-width="1.3" stroke-linejoin="round"/>
<circle cx="45.30" cy="268.10" r="3.1" fill="#e83c3c" stroke="#2a2a2a" stroke-width="0.7"/>
<circle cx="53.20" cy="279.30" r="3.1" fill="#e83c3c" stroke="#2a2a2a" stroke-width="0.7"/>
<circle cx="67.10" cy="271.70" r="3.1" fill="#e83c3c" stroke="#2a2a2a" stroke-width="0.7"/>
<circle cx="78.60" cy="267.20" r="3.1" fill="#e83c3c" stroke="#2a2a2a" stroke-width="0.7"/>
<circle cx="93.10" cy="235.40" r="3.1" fill="#e83c3c" stroke="#2a2a2a" stroke-width="0.7"/>
<circle cx="119.00" cy="212.60" r="3.1" fill="#e83c3c" stroke="#2a2a2a" stroke-width="0.7"/>
<polyline points="41.60,248.60 45.30,252.10 53.20,258.10 67.10,259.70 78.60,261.20 93.70,258.70 119.00,232.00" fill="none" stroke="#5b5bf0" stroke-width="1.3" stroke-linejoin="round"/>
<circle cx="45.30" cy="252.10" r="3.1" fill="#5b5bf0" stroke="#2a2a2a" stroke-width="0.7"/>
<circle cx="53.20" cy="258.10" r="3.1" fill="#5b5bf0" stroke="#2a2a2a" stroke-width="0.7"/>
<circle cx="67.10" cy="259.70" r="3.1" fill="#5b5bf0" stroke="#2a2a2a" stroke-width="0.7"/>
<circle cx="78.60" cy="261.20" r="3.1" fill="#5b5bf0" stroke="#2a2a2a" stroke-width="0.7"/>
<circle cx="93.70" cy="258.70" r="3.1" fill="#5b5bf0" stroke="#2a2a2a" stroke-width="0.7"/>
<circle cx="119.00" cy="232.00" r="3.1" fill="#5b5bf0" stroke="#2a2a2a" stroke-width="0.7"/>
<polyline points="41.60,248.60 45.30,242.50 52.80,232.00 67.20,227.00 78.50,224.10 93.10,218.40 119.00,212.60" fill="none" stroke="#888" stroke-width="1.0" stroke-linejoin="round"/>
<circle cx="41.60" cy="248.60" r="3.1" fill="#9a9a9a" stroke="#2a2a2a" stroke-width="0.7"/>
<circle cx="45.30" cy="242.50" r="3.1" fill="#9a9a9a" stroke="#2a2a2a" stroke-width="0.7"/>
<circle cx="52.80" cy="232.00" r="3.1" fill="#9a9a9a" stroke="#2a2a2a" stroke-width="0.7"/>
<circle cx="67.20" cy="227.00" r="3.1" fill="#9a9a9a" stroke="#2a2a2a" stroke-width="0.7"/>
<circle cx="78.50" cy="224.10" r="3.1" fill="#9a9a9a" stroke="#2a2a2a" stroke-width="0.7"/>
<circle cx="93.10" cy="218.40" r="3.1" fill="#9a9a9a" stroke="#2a2a2a" stroke-width="0.7"/>
<circle cx="119.00" cy="212.60" r="3.1" fill="#9a9a9a" stroke="#2a2a2a" stroke-width="0.7"/>
<line x1="131.50" y1="214.40" x2="143.90" y2="214.40" stroke="#aaa" stroke-width="1.0" />
<circle cx="137.70" cy="214.40" r="3.1" fill="#9a9a9a" stroke="#2a2a2a" stroke-width="0.7"/>
<text x="150.60" y="217.80" font-size="10" font-weight="normal" font-style="normal" text-anchor="start" fill="#262626" letter-spacing="-0.22">Untreated</text>
<line x1="131.50" y1="232.00" x2="143.90" y2="232.00" stroke="#5b5bf0" stroke-width="1.0" />
<circle cx="137.70" cy="232.00" r="3.1" fill="#5b5bf0" stroke="#2a2a2a" stroke-width="0.7"/>
<text x="150.60" y="235.40" font-size="10" font-weight="normal" font-style="normal" text-anchor="start" fill="#262626" letter-spacing="-0.22">MAD1-RI</text>
<text transform="translate(150.60 244.90) scale(0.88 1)" x="0" y="0" font-size="9.0" font-style="italic" fill="#262626">40 µM</text>
<line x1="131.50" y1="260.80" x2="143.90" y2="260.80" stroke="#e83c3c" stroke-width="1.0" />
<circle cx="137.70" cy="260.80" r="3.1" fill="#e83c3c" stroke="#2a2a2a" stroke-width="0.7"/>
<text x="150.60" y="264.20" font-size="10" font-weight="normal" font-style="normal" text-anchor="start" fill="#262626" letter-spacing="-0.22">MOX</text>
<text transform="translate(150.60 273.70) scale(0.88 1)" x="0" y="0" font-size="9.0" font-style="italic" fill="#262626">0.62 µM</text>
<line x1="131.50" y1="291.00" x2="143.90" y2="291.00" stroke="#b230ea" stroke-width="1.0" />
<circle cx="137.70" cy="291.00" r="3.1" fill="#b230ea" stroke="#2a2a2a" stroke-width="0.7"/>
<text x="150.60" y="294.40" font-size="10" font-weight="normal" font-style="normal" text-anchor="start" fill="#262626" letter-spacing="-0.22">MAD1-RI + MOX</text>
<text transform="translate(150.60 304.60) scale(0.88 1)" x="0" y="0" font-size="9.0" font-style="italic" fill="#262626">40 µM + 0.62 µM</text>
<text x="232.70" y="193.60" font-size="14" font-weight="bold" font-style="normal" text-anchor="start" fill="#1a1a1a" >e</text>
<line x1="269.60" y1="196.90" x2="269.60" y2="313.25" stroke="#1a1a1a" stroke-width="1.3" />
<line x1="265.00" y1="196.90" x2="269.60" y2="196.90" stroke="#1a1a1a" stroke-width="1.2" />
<text x="249.29" y="199.75" font-size="9.0" font-weight="bold" fill="#1a1a1a">10<tspan font-size="5.4" font-weight="bold" dy="-3.24" dx="0.6">8</tspan></text>
<line x1="265.00" y1="312.60" x2="269.60" y2="312.60" stroke="#1a1a1a" stroke-width="1.2" />
<text x="249.29" y="315.45" font-size="9.0" font-weight="bold" fill="#1a1a1a">10<tspan font-size="5.4" font-weight="bold" dy="-3.24" dx="0.6">7</tspan></text>
<line x1="268.95" y1="312.60" x2="347.70" y2="312.60" stroke="#1a1a1a" stroke-width="1.3" />
<line x1="269.60" y1="312.60" x2="269.60" y2="317.00" stroke="#1a1a1a" stroke-width="1.1" />
<line x1="275.14" y1="312.60" x2="275.14" y2="314.90" stroke="#1a1a1a" stroke-width="1.1" />
<line x1="280.67" y1="312.60" x2="280.67" y2="314.90" stroke="#1a1a1a" stroke-width="1.1" />
<line x1="286.21" y1="312.60" x2="286.21" y2="314.90" stroke="#1a1a1a" stroke-width="1.1" />
<line x1="291.74" y1="312.60" x2="291.74" y2="314.90" stroke="#1a1a1a" stroke-width="1.1" />
<line x1="297.28" y1="312.60" x2="297.28" y2="314.90" stroke="#1a1a1a" stroke-width="1.1" />
<line x1="302.81" y1="312.60" x2="302.81" y2="314.90" stroke="#1a1a1a" stroke-width="1.1" />
<line x1="308.35" y1="312.60" x2="308.35" y2="317.00" stroke="#1a1a1a" stroke-width="1.1" />
<line x1="313.89" y1="312.60" x2="313.89" y2="314.90" stroke="#1a1a1a" stroke-width="1.1" />
<line x1="319.42" y1="312.60" x2="319.42" y2="314.90" stroke="#1a1a1a" stroke-width="1.1" />
<line x1="324.96" y1="312.60" x2="324.96" y2="314.90" stroke="#1a1a1a" stroke-width="1.1" />
<line x1="330.49" y1="312.60" x2="330.49" y2="314.90" stroke="#1a1a1a" stroke-width="1.1" />
<line x1="336.03" y1="312.60" x2="336.03" y2="314.90" stroke="#1a1a1a" stroke-width="1.1" />
<line x1="341.56" y1="312.60" x2="341.56" y2="314.90" stroke="#1a1a1a" stroke-width="1.1" />
<line x1="347.10" y1="312.60" x2="347.10" y2="317.00" stroke="#1a1a1a" stroke-width="1.1" />
<text transform="translate(269.60 327.00) scale(0.88 1)" x="0" y="0" font-size="9.2" font-weight="bold" text-anchor="middle" fill="#1a1a1a" >0</text>
<text transform="translate(308.35 327.00) scale(0.88 1)" x="0" y="0" font-size="9.2" font-weight="bold" text-anchor="middle" fill="#1a1a1a" >7</text>
<text transform="translate(347.10 327.00) scale(0.88 1)" x="0" y="0" font-size="9.2" font-weight="bold" text-anchor="middle" fill="#1a1a1a" >14</text>
<text x="308.30" y="341.00" font-size="10" font-weight="bold" font-style="normal" text-anchor="middle" fill="#1a1a1a" letter-spacing="-0.15">Time (Days)</text>
<text x="244.00" y="254.00" font-size="11" font-weight="bold" fill="#1a1a1a" text-anchor="middle" transform="rotate(-90 244.00 254.00)">CFU/mL</text>
<polyline points="268.50,224.80 274.90,242.50 286.00,248.30 307.60,267.20 325.00,294.30 347.10,310.60" fill="none" stroke="#b230ea" stroke-width="1.3" stroke-linejoin="round"/>
<line x1="274.90" y1="238.90" x2="274.90" y2="246.90" stroke="#202020" stroke-width="1.0" />
<line x1="272.00" y1="238.90" x2="277.80" y2="238.90" stroke="#202020" stroke-width="1.0" />
<line x1="272.00" y1="246.90" x2="277.80" y2="246.90" stroke="#202020" stroke-width="1.0" />
<line x1="286.00" y1="238.90" x2="286.00" y2="259.90" stroke="#202020" stroke-width="1.0" />
<line x1="283.10" y1="238.90" x2="288.90" y2="238.90" stroke="#202020" stroke-width="1.0" />
<line x1="283.10" y1="259.90" x2="288.90" y2="259.90" stroke="#202020" stroke-width="1.0" />
<line x1="325.00" y1="286.00" x2="325.00" y2="302.30" stroke="#202020" stroke-width="1.0" />
<line x1="322.10" y1="286.00" x2="327.90" y2="286.00" stroke="#202020" stroke-width="1.0" />
<line x1="322.10" y1="302.30" x2="327.90" y2="302.30" stroke="#202020" stroke-width="1.0" />
<circle cx="268.50" cy="224.80" r="3.1" fill="#b230ea" stroke="#2a2a2a" stroke-width="0.7"/>
<circle cx="274.90" cy="242.50" r="3.1" fill="#b230ea" stroke="#2a2a2a" stroke-width="0.7"/>
<circle cx="286.00" cy="248.30" r="3.1" fill="#b230ea" stroke="#2a2a2a" stroke-width="0.7"/>
<circle cx="307.60" cy="267.20" r="3.1" fill="#b230ea" stroke="#2a2a2a" stroke-width="0.7"/>
<circle cx="325.00" cy="294.30" r="3.1" fill="#b230ea" stroke="#2a2a2a" stroke-width="0.7"/>
<circle cx="347.10" cy="310.60" r="3.1" fill="#b230ea" stroke="#2a2a2a" stroke-width="0.7"/>
<polyline points="268.50,224.80 275.10,230.00 286.00,233.80 307.60,254.70 324.60,250.80 346.90,261.40" fill="none" stroke="#e83c3c" stroke-width="1.3" stroke-linejoin="round"/>
<line x1="286.00" y1="229.40" x2="286.00" y2="239.00" stroke="#202020" stroke-width="1.0" />
<line x1="283.10" y1="229.40" x2="288.90" y2="229.40" stroke="#202020" stroke-width="1.0" />
<line x1="283.10" y1="239.00" x2="288.90" y2="239.00" stroke="#202020" stroke-width="1.0" />
<line x1="307.60" y1="250.60" x2="307.60" y2="259.40" stroke="#202020" stroke-width="1.0" />
<line x1="304.70" y1="250.60" x2="310.50" y2="250.60" stroke="#202020" stroke-width="1.0" />
<line x1="304.70" y1="259.40" x2="310.50" y2="259.40" stroke="#202020" stroke-width="1.0" />
<line x1="324.60" y1="244.80" x2="324.60" y2="256.60" stroke="#202020" stroke-width="1.0" />
<line x1="321.70" y1="244.80" x2="327.50" y2="244.80" stroke="#202020" stroke-width="1.0" />
<line x1="321.70" y1="256.60" x2="327.50" y2="256.60" stroke="#202020" stroke-width="1.0" />
<line x1="346.90" y1="252.70" x2="346.90" y2="271.00" stroke="#202020" stroke-width="1.0" />
<line x1="344.00" y1="252.70" x2="349.80" y2="252.70" stroke="#202020" stroke-width="1.0" />
<line x1="344.00" y1="271.00" x2="349.80" y2="271.00" stroke="#202020" stroke-width="1.0" />
<circle cx="268.50" cy="224.80" r="3.1" fill="#e83c3c" stroke="#2a2a2a" stroke-width="0.7"/>
<circle cx="275.10" cy="230.00" r="3.1" fill="#e83c3c" stroke="#2a2a2a" stroke-width="0.7"/>
<circle cx="286.00" cy="233.80" r="3.1" fill="#e83c3c" stroke="#2a2a2a" stroke-width="0.7"/>
<circle cx="307.60" cy="254.70" r="3.1" fill="#e83c3c" stroke="#2a2a2a" stroke-width="0.7"/>
<circle cx="324.60" cy="250.80" r="3.1" fill="#e83c3c" stroke="#2a2a2a" stroke-width="0.7"/>
<circle cx="346.90" cy="261.40" r="3.1" fill="#e83c3c" stroke="#2a2a2a" stroke-width="0.7"/>
<polyline points="268.50,224.80 275.10,232.30 285.80,271.80 307.80,267.60 325.00,278.80 347.10,292.30" fill="none" stroke="#5b5bf0" stroke-width="1.3" stroke-linejoin="round"/>
<line x1="285.80" y1="265.70" x2="285.80" y2="278.30" stroke="#202020" stroke-width="1.0" />
<line x1="282.90" y1="265.70" x2="288.70" y2="265.70" stroke="#202020" stroke-width="1.0" />
<line x1="282.90" y1="278.30" x2="288.70" y2="278.30" stroke="#202020" stroke-width="1.0" />
<line x1="307.80" y1="258.60" x2="307.80" y2="278.60" stroke="#202020" stroke-width="1.0" />
<line x1="304.90" y1="258.60" x2="310.70" y2="258.60" stroke="#202020" stroke-width="1.0" />
<line x1="304.90" y1="278.60" x2="310.70" y2="278.60" stroke="#202020" stroke-width="1.0" />
<line x1="325.00" y1="269.70" x2="325.00" y2="285.00" stroke="#202020" stroke-width="1.0" />
<line x1="322.10" y1="269.70" x2="327.90" y2="269.70" stroke="#202020" stroke-width="1.0" />
<line x1="322.10" y1="285.00" x2="327.90" y2="285.00" stroke="#202020" stroke-width="1.0" />
<line x1="347.10" y1="289.50" x2="347.10" y2="295.50" stroke="#202020" stroke-width="1.0" />
<line x1="344.20" y1="289.50" x2="350.00" y2="289.50" stroke="#202020" stroke-width="1.0" />
<line x1="344.20" y1="295.50" x2="350.00" y2="295.50" stroke="#202020" stroke-width="1.0" />
<circle cx="268.50" cy="224.80" r="3.1" fill="#5b5bf0" stroke="#2a2a2a" stroke-width="0.7"/>
<circle cx="275.10" cy="232.30" r="3.1" fill="#5b5bf0" stroke="#2a2a2a" stroke-width="0.7"/>
<circle cx="285.80" cy="271.80" r="3.1" fill="#5b5bf0" stroke="#2a2a2a" stroke-width="0.7"/>
<circle cx="307.80" cy="267.60" r="3.1" fill="#5b5bf0" stroke="#2a2a2a" stroke-width="0.7"/>
<circle cx="325.00" cy="278.80" r="3.1" fill="#5b5bf0" stroke="#2a2a2a" stroke-width="0.7"/>
<circle cx="347.10" cy="292.30" r="3.1" fill="#5b5bf0" stroke="#2a2a2a" stroke-width="0.7"/>
<polyline points="268.50,224.80 275.10,224.80 286.00,226.50 307.60,226.70 324.60,227.80 346.90,228.00" fill="none" stroke="#aaa" stroke-width="1.0" stroke-linejoin="round"/>
<line x1="268.50" y1="220.70" x2="268.50" y2="229.00" stroke="#202020" stroke-width="1.0" />
<line x1="265.60" y1="220.70" x2="271.40" y2="220.70" stroke="#202020" stroke-width="1.0" />
<line x1="265.60" y1="229.00" x2="271.40" y2="229.00" stroke="#202020" stroke-width="1.0" />
<line x1="275.10" y1="216.60" x2="275.10" y2="233.00" stroke="#202020" stroke-width="1.0" />
<line x1="272.20" y1="216.60" x2="278.00" y2="216.60" stroke="#202020" stroke-width="1.0" />
<line x1="272.20" y1="233.00" x2="278.00" y2="233.00" stroke="#202020" stroke-width="1.0" />
<line x1="324.60" y1="221.80" x2="324.60" y2="233.60" stroke="#202020" stroke-width="1.0" />
<line x1="321.70" y1="221.80" x2="327.50" y2="221.80" stroke="#202020" stroke-width="1.0" />
<line x1="321.70" y1="233.60" x2="327.50" y2="233.60" stroke="#202020" stroke-width="1.0" />
<line x1="346.90" y1="218.40" x2="346.90" y2="238.80" stroke="#202020" stroke-width="1.0" />
<line x1="344.00" y1="218.40" x2="349.80" y2="218.40" stroke="#202020" stroke-width="1.0" />
<line x1="344.00" y1="238.80" x2="349.80" y2="238.80" stroke="#202020" stroke-width="1.0" />
<circle cx="268.50" cy="224.80" r="3.1" fill="#9a9a9a" stroke="#2a2a2a" stroke-width="0.7"/>
<circle cx="275.10" cy="224.80" r="3.1" fill="#9a9a9a" stroke="#2a2a2a" stroke-width="0.7"/>
<circle cx="286.00" cy="226.50" r="3.1" fill="#9a9a9a" stroke="#2a2a2a" stroke-width="0.7"/>
<circle cx="307.60" cy="226.70" r="3.1" fill="#9a9a9a" stroke="#2a2a2a" stroke-width="0.7"/>
<circle cx="324.60" cy="227.80" r="3.1" fill="#9a9a9a" stroke="#2a2a2a" stroke-width="0.7"/>
<circle cx="346.90" cy="228.00" r="3.1" fill="#9a9a9a" stroke="#2a2a2a" stroke-width="0.7"/>
<line x1="362.00" y1="214.40" x2="374.40" y2="214.40" stroke="#aaa" stroke-width="1.0" />
<circle cx="368.20" cy="214.40" r="3.1" fill="#9a9a9a" stroke="#2a2a2a" stroke-width="0.7"/>
<text x="381.30" y="217.80" font-size="10" font-weight="normal" font-style="normal" text-anchor="start" fill="#262626" letter-spacing="-0.22">Untreated</text>
<line x1="362.00" y1="232.00" x2="374.40" y2="232.00" stroke="#5b5bf0" stroke-width="1.0" />
<circle cx="368.20" cy="232.00" r="3.1" fill="#5b5bf0" stroke="#2a2a2a" stroke-width="0.7"/>
<text x="381.30" y="235.40" font-size="10" font-weight="normal" font-style="normal" text-anchor="start" fill="#262626" letter-spacing="-0.22">MAD1-RI</text>
<text transform="translate(381.30 244.90) scale(0.88 1)" x="0" y="0" font-size="9.0" font-style="italic" fill="#262626">40 µM</text>
<line x1="362.00" y1="260.80" x2="374.40" y2="260.80" stroke="#e83c3c" stroke-width="1.0" />
<circle cx="368.20" cy="260.80" r="3.1" fill="#e83c3c" stroke="#2a2a2a" stroke-width="0.7"/>
<text x="381.30" y="264.20" font-size="10" font-weight="normal" font-style="normal" text-anchor="start" fill="#262626" letter-spacing="-0.22">MOX</text>
<text transform="translate(381.30 273.70) scale(0.88 1)" x="0" y="0" font-size="9.0" font-style="italic" fill="#262626">1.25 µM</text>
<line x1="362.00" y1="290.70" x2="374.40" y2="290.70" stroke="#b230ea" stroke-width="1.0" />
<circle cx="368.20" cy="290.70" r="3.1" fill="#b230ea" stroke="#2a2a2a" stroke-width="0.7"/>
<text x="381.30" y="294.10" font-size="10" font-weight="normal" font-style="normal" text-anchor="start" fill="#262626" letter-spacing="-0.22">MAD1-RI + MOX</text>
<text transform="translate(381.30 304.30) scale(0.88 1)" x="0" y="0" font-size="9.0" font-style="italic" fill="#262626">40 µM + 1.25 µM</text>
<text x="461.50" y="195.00" font-size="14" font-weight="bold" font-style="normal" text-anchor="start" fill="#1a1a1a" >f</text>
<line x1="500.50" y1="195.90" x2="500.50" y2="313.15" stroke="#1a1a1a" stroke-width="1.3" />
<line x1="495.90" y1="195.90" x2="500.50" y2="195.90" stroke="#1a1a1a" stroke-width="1.2" />
<text x="480.19" y="198.75" font-size="9.0" font-weight="bold" fill="#1a1a1a">10<tspan font-size="5.4" font-weight="bold" dy="-3.24" dx="0.6">7</tspan></text>
<line x1="495.90" y1="225.05" x2="500.50" y2="225.05" stroke="#1a1a1a" stroke-width="1.2" />
<text x="480.19" y="227.90" font-size="9.0" font-weight="bold" fill="#1a1a1a">10<tspan font-size="5.4" font-weight="bold" dy="-3.24" dx="0.6">6</tspan></text>
<line x1="495.90" y1="254.20" x2="500.50" y2="254.20" stroke="#1a1a1a" stroke-width="1.2" />
<text x="480.19" y="257.05" font-size="9.0" font-weight="bold" fill="#1a1a1a">10<tspan font-size="5.4" font-weight="bold" dy="-3.24" dx="0.6">5</tspan></text>
<line x1="495.90" y1="283.35" x2="500.50" y2="283.35" stroke="#1a1a1a" stroke-width="1.2" />
<text x="480.19" y="286.20" font-size="9.0" font-weight="bold" fill="#1a1a1a">10<tspan font-size="5.4" font-weight="bold" dy="-3.24" dx="0.6">4</tspan></text>
<line x1="495.90" y1="312.50" x2="500.50" y2="312.50" stroke="#1a1a1a" stroke-width="1.2" />
<text x="480.19" y="315.35" font-size="9.0" font-weight="bold" fill="#1a1a1a">10<tspan font-size="5.4" font-weight="bold" dy="-3.24" dx="0.6">3</tspan></text>
<line x1="499.85" y1="312.50" x2="578.60" y2="312.50" stroke="#1a1a1a" stroke-width="1.3" />
<line x1="500.30" y1="312.50" x2="500.30" y2="316.90" stroke="#1a1a1a" stroke-width="1.1" />
<line x1="505.85" y1="312.50" x2="505.85" y2="314.80" stroke="#1a1a1a" stroke-width="1.1" />
<line x1="511.40" y1="312.50" x2="511.40" y2="314.80" stroke="#1a1a1a" stroke-width="1.1" />
<line x1="516.95" y1="312.50" x2="516.95" y2="314.80" stroke="#1a1a1a" stroke-width="1.1" />
<line x1="522.50" y1="312.50" x2="522.50" y2="314.80" stroke="#1a1a1a" stroke-width="1.1" />
<line x1="528.05" y1="312.50" x2="528.05" y2="314.80" stroke="#1a1a1a" stroke-width="1.1" />
<line x1="533.60" y1="312.50" x2="533.60" y2="314.80" stroke="#1a1a1a" stroke-width="1.1" />
<line x1="539.15" y1="312.50" x2="539.15" y2="316.90" stroke="#1a1a1a" stroke-width="1.1" />
<line x1="544.70" y1="312.50" x2="544.70" y2="314.80" stroke="#1a1a1a" stroke-width="1.1" />
<line x1="550.25" y1="312.50" x2="550.25" y2="314.80" stroke="#1a1a1a" stroke-width="1.1" />
<line x1="555.80" y1="312.50" x2="555.80" y2="314.80" stroke="#1a1a1a" stroke-width="1.1" />
<line x1="561.35" y1="312.50" x2="561.35" y2="314.80" stroke="#1a1a1a" stroke-width="1.1" />
<line x1="566.90" y1="312.50" x2="566.90" y2="314.80" stroke="#1a1a1a" stroke-width="1.1" />
<line x1="572.45" y1="312.50" x2="572.45" y2="314.80" stroke="#1a1a1a" stroke-width="1.1" />
<line x1="578.00" y1="312.50" x2="578.00" y2="316.90" stroke="#1a1a1a" stroke-width="1.1" />
<text transform="translate(500.30 327.00) scale(0.88 1)" x="0" y="0" font-size="9.2" font-weight="bold" text-anchor="middle" fill="#1a1a1a" >0</text>
<text transform="translate(539.15 327.00) scale(0.88 1)" x="0" y="0" font-size="9.2" font-weight="bold" text-anchor="middle" fill="#1a1a1a" >7</text>
<text transform="translate(578.00 327.00) scale(0.88 1)" x="0" y="0" font-size="9.2" font-weight="bold" text-anchor="middle" fill="#1a1a1a" >14</text>
<text x="539.20" y="341.00" font-size="10" font-weight="bold" font-style="normal" text-anchor="middle" fill="#1a1a1a" letter-spacing="-0.15">Time (Days)</text>
<text x="475.00" y="254.00" font-size="11" font-weight="bold" fill="#1a1a1a" text-anchor="middle" transform="rotate(-90 475.00 254.00)">CFU/mL</text>
<polyline points="500.50,210.20 506.00,224.50 517.10,240.00 539.20,255.20 555.80,253.00 577.80,281.20" fill="none" stroke="#b230ea" stroke-width="1.3" stroke-linejoin="round"/>
<circle cx="506.00" cy="224.50" r="3.1" fill="#b230ea" stroke="#2a2a2a" stroke-width="0.7"/>
<circle cx="517.10" cy="240.00" r="3.1" fill="#b230ea" stroke="#2a2a2a" stroke-width="0.7"/>
<circle cx="539.20" cy="255.20" r="3.1" fill="#b230ea" stroke="#2a2a2a" stroke-width="0.7"/>
<circle cx="555.80" cy="253.00" r="3.1" fill="#b230ea" stroke="#2a2a2a" stroke-width="0.7"/>
<circle cx="577.80" cy="281.20" r="3.1" fill="#b230ea" stroke="#2a2a2a" stroke-width="0.7"/>
<polyline points="500.50,210.20 506.00,224.50 517.10,243.90 539.20,255.80 555.80,255.20 577.80,285.60" fill="none" stroke="#e83c3c" stroke-width="1.3" stroke-linejoin="round"/>
<line x1="517.10" y1="240.60" x2="517.10" y2="247.50" stroke="#202020" stroke-width="1.0" />
<line x1="514.20" y1="240.60" x2="520.00" y2="240.60" stroke="#202020" stroke-width="1.0" />
<line x1="514.20" y1="247.50" x2="520.00" y2="247.50" stroke="#202020" stroke-width="1.0" />
<line x1="539.20" y1="253.00" x2="539.20" y2="259.00" stroke="#202020" stroke-width="1.0" />
<line x1="536.30" y1="253.00" x2="542.10" y2="253.00" stroke="#202020" stroke-width="1.0" />
<line x1="536.30" y1="259.00" x2="542.10" y2="259.00" stroke="#202020" stroke-width="1.0" />
<line x1="555.80" y1="248.90" x2="555.80" y2="259.90" stroke="#202020" stroke-width="1.0" />
<line x1="552.90" y1="248.90" x2="558.70" y2="248.90" stroke="#202020" stroke-width="1.0" />
<line x1="552.90" y1="259.90" x2="558.70" y2="259.90" stroke="#202020" stroke-width="1.0" />
<line x1="577.80" y1="282.00" x2="577.80" y2="289.00" stroke="#202020" stroke-width="1.0" />
<line x1="574.90" y1="282.00" x2="580.70" y2="282.00" stroke="#202020" stroke-width="1.0" />
<line x1="574.90" y1="289.00" x2="580.70" y2="289.00" stroke="#202020" stroke-width="1.0" />
<circle cx="506.00" cy="224.50" r="3.1" fill="#e83c3c" stroke="#2a2a2a" stroke-width="0.7"/>
<circle cx="517.10" cy="243.90" r="3.1" fill="#e83c3c" stroke="#2a2a2a" stroke-width="0.7"/>
<circle cx="539.20" cy="255.80" r="3.1" fill="#e83c3c" stroke="#2a2a2a" stroke-width="0.7"/>
<circle cx="555.80" cy="255.20" r="3.1" fill="#e83c3c" stroke="#2a2a2a" stroke-width="0.7"/>
<circle cx="577.80" cy="285.60" r="3.1" fill="#e83c3c" stroke="#2a2a2a" stroke-width="0.7"/>
<polyline points="500.50,210.20 506.00,219.90 517.10,225.40 539.20,229.00 555.80,238.40 577.80,252.40" fill="none" stroke="#5b5bf0" stroke-width="1.3" stroke-linejoin="round"/>
<line x1="517.10" y1="222.60" x2="517.10" y2="230.40" stroke="#202020" stroke-width="1.0" />
<line x1="514.20" y1="222.60" x2="520.00" y2="222.60" stroke="#202020" stroke-width="1.0" />
<line x1="514.20" y1="230.40" x2="520.00" y2="230.40" stroke="#202020" stroke-width="1.0" />
<circle cx="506.00" cy="219.90" r="3.1" fill="#5b5bf0" stroke="#2a2a2a" stroke-width="0.7"/>
<circle cx="517.10" cy="225.40" r="3.1" fill="#5b5bf0" stroke="#2a2a2a" stroke-width="0.7"/>
<circle cx="539.20" cy="229.00" r="3.1" fill="#5b5bf0" stroke="#2a2a2a" stroke-width="0.7"/>
<circle cx="555.80" cy="238.40" r="3.1" fill="#5b5bf0" stroke="#2a2a2a" stroke-width="0.7"/>
<circle cx="577.80" cy="252.40" r="3.1" fill="#5b5bf0" stroke="#2a2a2a" stroke-width="0.7"/>
<polyline points="500.50,210.20 506.00,213.00 517.10,215.70 539.20,229.50 555.80,223.40 577.80,246.90" fill="none" stroke="#999" stroke-width="1.0" stroke-linejoin="round"/>
<circle cx="500.50" cy="210.20" r="3.1" fill="#9a9a9a" stroke="#2a2a2a" stroke-width="0.7"/>
<circle cx="506.00" cy="213.00" r="3.1" fill="#9a9a9a" stroke="#2a2a2a" stroke-width="0.7"/>
<circle cx="517.10" cy="215.70" r="3.1" fill="#9a9a9a" stroke="#2a2a2a" stroke-width="0.7"/>
<circle cx="539.20" cy="229.50" r="3.1" fill="#9a9a9a" stroke="#2a2a2a" stroke-width="0.7"/>
<circle cx="555.80" cy="223.40" r="3.1" fill="#9a9a9a" stroke="#2a2a2a" stroke-width="0.7"/>
<circle cx="577.80" cy="246.90" r="3.1" fill="#9a9a9a" stroke="#2a2a2a" stroke-width="0.7"/>
<line x1="591.80" y1="213.80" x2="604.20" y2="213.80" stroke="#aaa" stroke-width="1.0" />
<circle cx="598.00" cy="213.80" r="3.1" fill="#9a9a9a" stroke="#2a2a2a" stroke-width="0.7"/>
<text x="611.10" y="217.20" font-size="10" font-weight="normal" font-style="normal" text-anchor="start" fill="#262626" letter-spacing="-0.22">Untreated</text>
<line x1="591.80" y1="231.00" x2="604.20" y2="231.00" stroke="#5b5bf0" stroke-width="1.0" />
<circle cx="598.00" cy="231.00" r="3.1" fill="#5b5bf0" stroke="#2a2a2a" stroke-width="0.7"/>
<text x="611.10" y="234.40" font-size="10" font-weight="normal" font-style="normal" text-anchor="start" fill="#262626" letter-spacing="-0.22">MAD1-RI</text>
<text transform="translate(611.10 243.90) scale(0.88 1)" x="0" y="0" font-size="9.0" font-style="italic" fill="#262626">40 µM</text>
<line x1="591.80" y1="260.80" x2="604.20" y2="260.80" stroke="#e83c3c" stroke-width="1.0" />
<circle cx="598.00" cy="260.80" r="3.1" fill="#e83c3c" stroke="#2a2a2a" stroke-width="0.7"/>
<text x="611.10" y="264.20" font-size="10" font-weight="normal" font-style="normal" text-anchor="start" fill="#262626" letter-spacing="-0.22">MOX</text>
<text transform="translate(611.10 273.70) scale(0.88 1)" x="0" y="0" font-size="9.0" font-style="italic" fill="#262626">1.86 µM</text>
<line x1="591.80" y1="290.50" x2="604.20" y2="290.50" stroke="#b230ea" stroke-width="1.0" />
<circle cx="598.00" cy="290.50" r="3.1" fill="#b230ea" stroke="#2a2a2a" stroke-width="0.7"/>
<text x="611.10" y="293.90" font-size="10" font-weight="normal" font-style="normal" text-anchor="start" fill="#262626" letter-spacing="-0.22">MAD1-RI + MOX</text>
<text transform="translate(611.10 304.50) scale(0.88 1)" x="0" y="0" font-size="9.0" font-style="italic" fill="#262626">40 µM + 1.86 µM</text>
</svg></body></html>
